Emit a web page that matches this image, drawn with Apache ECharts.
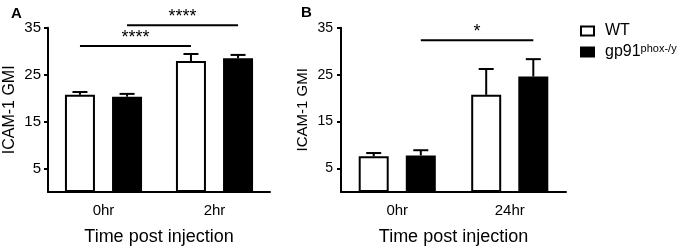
<!DOCTYPE html>
<html>
<head>
<meta charset="utf-8">
<script src="https://cdn.jsdelivr.net/npm/echarts@6/dist/echarts.min.js"></script>
<style>html,body{margin:0;padding:0;background:#fff}#c{width:681px;height:251px}</style>
</head>
<body>
<div id="c"></div>
<script>
// ---- data ----
var categoriesA = ['0hr', '2hr'];
var wtA = [20.7, 27.9];
var wtAErr = [0.6, 1.5];
var koA = [20.3, 28.5];
var koAErr = [0.6, 0.7];

var categoriesB = ['0hr', '24hr'];
var wtB = [7.6, 20.7];
var wtBErr = [0.7, 5.5];
var koB = [7.8, 24.6];
var koBErr = [1.1, 3.7];

var yTicks = [5, 15, 25, 35];
// significance brackets: [fromCategory, fromGroup(0=WT,1=KO), toCategory, toGroup, yValue, label]
var sigA = [[0, 0, 1, 0, 31.1, '****'], [0, 1, 1, 1, 35.5, '****']];
var sigB = [[0, 1, 1, 1, 32.3, '*']];

var seriesNames = ['WT', 'gp91'];

// ---- styles ----
var FONT = 'Liberation Sans, Arial, sans-serif';
var BAR_W = 30, BAR_GAP = 0.57;
var OFFSETS = [-(BAR_W * (1 + BAR_GAP)) / 2, (BAR_W * (1 + BAR_GAP)) / 2];

function errRender(group) {
  return function (params, api) {
    var cat = api.value(0), mean = api.value(1), err = api.value(2);
    var base = api.coord([cat, mean]);
    var top = api.coord([cat, mean + err]);
    var x = base[0] + OFFSETS[group];
    var cap = 7.5;
    return {
      type: 'group',
      children: [
        {type: 'line', shape: {x1: x, y1: base[1], x2: x, y2: top[1]}, style: {stroke: '#000', lineWidth: 2}},
        {type: 'line', shape: {x1: x - cap, y1: top[1], x2: x + cap, y2: top[1]}, style: {stroke: '#000', lineWidth: 2}}
      ]
    };
  };
}
function sigRender(params, api) {
  var p1 = api.coord([api.value(0), api.value(4)]);
  var p2 = api.coord([api.value(2), api.value(4)]);
  var x1 = p1[0] + OFFSETS[api.value(1)];
  var x2 = p2[0] + OFFSETS[api.value(3)];
  return {
    type: 'group',
    children: [
      {type: 'line', shape: {x1: x1, y1: p1[1], x2: x2, y2: p1[1]}, style: {stroke: '#000', lineWidth: 2}},
      {type: 'text', x: (x1 + x2) / 2, y: p1[1] + 1, style: {text: api.value(5), fill: '#000', font: '18px ' + FONT, align: 'center', verticalAlign: 'bottom'}}
    ]
  };
}
function errData(vals, errs) {
  return vals.map(function (v, i) { return [i, v, errs[i]]; });
}

function yAxisCfg(gridIndex, labelSize, nameSize, nameGap, labelMargin) {
  return {
    type: 'value', gridIndex: gridIndex, min: 0, max: 35,
    name: 'ICAM-1 GMI', nameLocation: 'middle', nameGap: nameGap,
    nameTextStyle: {color: '#000', fontSize: nameSize, fontFamily: FONT},
    axisLine: {show: true, lineStyle: {color: '#000', width: 2}},
    axisTick: {show: true, length: 4, lineStyle: {color: '#000', width: 2}, customValues: yTicks},
    axisLabel: {color: '#000', fontSize: labelSize, fontFamily: FONT, margin: labelMargin, customValues: yTicks},
    splitLine: {show: false}
  };
}
function xAxisCfg(gridIndex, cats) {
  return {
    type: 'category', gridIndex: gridIndex, data: cats,
    name: 'Time post injection', nameLocation: 'middle', nameGap: 36,
    nameTextStyle: {color: '#000', fontSize: 18, fontFamily: FONT},
    axisLine: {show: true, lineStyle: {color: '#000', width: 2}},
    axisTick: {show: false},
    axisLabel: {color: '#000', fontSize: 15, fontFamily: FONT, margin: 11}
  };
}
function barSeries(name, idx, data, fill) {
  return {
    type: 'bar', name: name, xAxisIndex: idx, yAxisIndex: idx, data: data,
    barWidth: BAR_W, barGap: (BAR_GAP * 100) + '%',
    itemStyle: {color: fill, borderColor: '#000', borderWidth: 2},
    silent: true
  };
}

var chart = echarts.init(document.getElementById('c'), null, {renderer: 'canvas'});
chart.setOption({
  animation: false,
  backgroundColor: '#fff',
  title: [
    {text: 'A', left: 6, top: 1, textStyle: {fontSize: 15, fontWeight: 'bold', color: '#000', fontFamily: FONT}},
    {text: 'B', left: 296, top: 0, textStyle: {fontSize: 15, fontWeight: 'bold', color: '#000', fontFamily: FONT}}
  ],
  grid: [
    {left: 48, right: 411, top: 27.7, bottom: 58.3},
    {left: 341, right: 115, top: 27.7, bottom: 58.3}
  ],
  legend: {
    orient: 'vertical', left: 575, top: 18, itemWidth: 13, itemHeight: 9, itemGap: 4,
    icon: 'rect',
    data: seriesNames,
    itemStyle: {borderWidth: 2},
    formatter: function (n) { return n === 'gp91' ? 'gp91{sup|phox-/y}' : n; },
    textStyle: {color: '#000', fontSize: 16, fontFamily: FONT, padding: [0, 0, 0, 6],
      rich: {sup: {fontSize: 11, fontFamily: FONT, color: '#000', verticalAlign: 'top', padding: [0, 0, 7, 0]}}}
  },
  xAxis: [xAxisCfg(0, categoriesA), xAxisCfg(1, categoriesB)],
  yAxis: [yAxisCfg(0, 15, 16, 30, 7), yAxisCfg(1, 14, 15, 31, 8)],
  series: [
    barSeries('WT', 0, wtA, '#fff'),
    barSeries('gp91', 0, koA, '#000'),
    barSeries('WT', 1, wtB, '#fff'),
    barSeries('gp91', 1, koB, '#000'),
    {type: 'custom', xAxisIndex: 0, yAxisIndex: 0, renderItem: errRender(0), data: errData(wtA, wtAErr), z: 5, clip: false},
    {type: 'custom', xAxisIndex: 0, yAxisIndex: 0, renderItem: errRender(1), data: errData(koA, koAErr), z: 5, clip: false},
    {type: 'custom', xAxisIndex: 1, yAxisIndex: 1, renderItem: errRender(0), data: errData(wtB, wtBErr), z: 5, clip: false},
    {type: 'custom', xAxisIndex: 1, yAxisIndex: 1, renderItem: errRender(1), data: errData(koB, koBErr), z: 5, clip: false},
    {type: 'custom', xAxisIndex: 0, yAxisIndex: 0, renderItem: sigRender, data: sigA, z: 5, clip: false},
    {type: 'custom', xAxisIndex: 1, yAxisIndex: 1, renderItem: sigRender, data: sigB, z: 5, clip: false}
  ]
});
</script>
</body>
</html>
